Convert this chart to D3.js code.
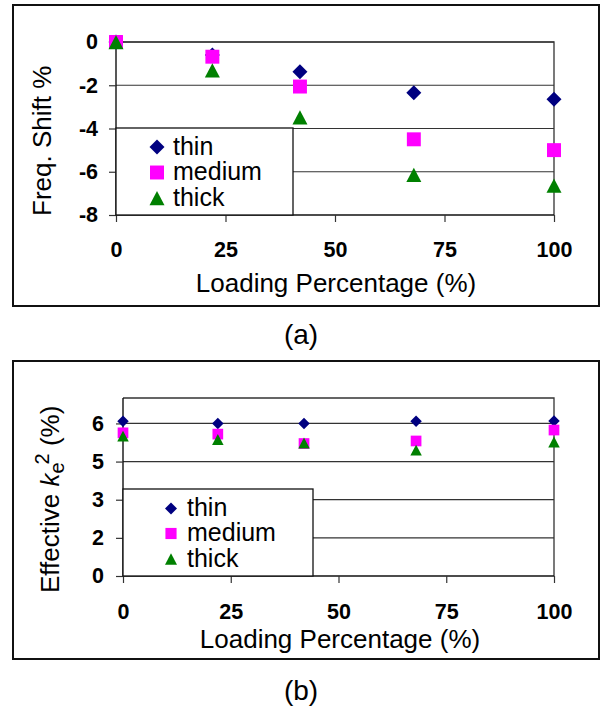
<!DOCTYPE html>
<html>
<head>
<meta charset="utf-8">
<script src="https://cdn.jsdelivr.net/npm/d3@7"></script>
<style>
  body { margin: 0; background: #fff; }
  svg { display: block; font-family: "Liberation Sans", Arial, sans-serif; }
</style>
</head>
<body>
<svg id="chart" width="602" height="715"></svg>
<script>
// loading percentages (x) shared by both panels
const loading = [0, 22, 42, 68, 100];
const seriesNames = ["thin", "medium", "thick"];

// (a) frequency shift %
const shiftThin = [0, -0.6, -1.37, -2.35, -2.65];
const shiftMedium = [0, -0.68, -2.06, -4.5, -5.0];
const shiftThick = [0, -1.31, -3.49, -6.14, -6.64];

// (b) effective k_e^2 %
const keThin = [6.09, 6.0, 6.0, 6.09, 6.1];
const keMedium = [5.63, 5.58, 5.21, 5.31, 5.74];
const keThick = [5.5, 5.37, 5.23, 4.95, 5.27];

const xTicks = [0, 25, 50, 75, 100];
const shiftTicks = [0, -2, -4, -6, -8];
const shiftTickLabels = ["0", "-2", "-4", "-6", "-8"];
const keTicks = [0, 1.5, 3, 4.5, 6];
const keTickLabels = ["0", "2", "3", "5", "6"];

const colors = {thin: "#000080", medium: "#ff00ff", thick: "#008000"};

// marker shapes, centred on their bounding box like Excel markers
const shapeTypes = {
    thin: {draw(ctx, size) { const r = Math.sqrt(size) / 2;
        ctx.moveTo(0, -r); ctx.lineTo(r, 0); ctx.lineTo(0, r); ctx.lineTo(-r, 0); ctx.closePath(); }},
    medium: {draw(ctx, size) { const r = Math.sqrt(size) / 2 * 0.93;
        ctx.rect(-r, -r, 2 * r, 2 * r); }},
    thick: {draw(ctx, size) { const r = Math.sqrt(size) / 2;
        ctx.moveTo(0, -r * 0.95); ctx.lineTo(r, r * 0.95); ctx.lineTo(-r, r * 0.95); ctx.closePath(); }}
};

const svg = d3.select("#chart");

function panel(cfg) {
    const x = d3.scaleLinear().domain([0, 100]).range([cfg.left, cfg.right]);
    const y = d3.scaleLinear().domain(cfg.yDomain).range([cfg.bottom, cfg.top]);
    const g = svg.append("g");

    // outer frame
    g.append("rect")
        .attr("x", cfg.box[0]).attr("y", cfg.box[1])
        .attr("width", cfg.box[2] - cfg.box[0]).attr("height", cfg.box[3] - cfg.box[1])
        .attr("fill", "none").attr("stroke", "#111").attr("stroke-width", 2);

    // gridlines
    g.append("g").selectAll("line")
        .data(cfg.yTicks.filter(d => y(d) < cfg.bottom - 1))
        .join("line")
        .attr("x1", cfg.left).attr("x2", cfg.right)
        .attr("y1", d => y(d)).attr("y2", d => y(d))
        .attr("stroke", "#333").attr("stroke-width", 1.2);
    // plot border top and right
    g.append("path")
        .attr("d", `M${cfg.left},${y(cfg.yDomain[1])}H${cfg.right}V${cfg.bottom}`)
        .attr("fill", "none").attr("stroke", "#333").attr("stroke-width", 1.3);

    const xAxis = g.append("g")
        .attr("transform", `translate(0,${cfg.bottom})`)
        .call(d3.axisBottom(x).tickValues(xTicks).tickSize(7).tickPadding(cfg.xPad));
    const yAxis = g.append("g")
        .attr("transform", `translate(${cfg.left},0)`)
        .call(d3.axisLeft(y).tickValues(cfg.yTicks).tickSize(7).tickPadding(cfg.yPad)
            .tickFormat((d, i) => cfg.yLabels[i]));
    [xAxis, yAxis].forEach(a => {
        a.select(".domain").attr("stroke", "#111").attr("stroke-width", 1.4);
        a.selectAll(".tick line").attr("stroke", "#333").attr("stroke-width", 1.2);
        a.selectAll("text").attr("fill", "#000").attr("font-size", 21.5)
            .attr("font-weight", "bold").attr("font-family", "Liberation Sans, Arial, sans-serif");
    });
    xAxis.select(".domain").attr("d", `M${cfg.left},0H${cfg.right}`);
    yAxis.select(".domain").attr("d", `M0,${cfg.top}V${cfg.bottom}`);

    // legend box (drawn under the markers, over gridlines)
    const lg = cfg.legend;
    g.append("rect")
        .attr("x", cfg.left).attr("y", lg.top)
        .attr("width", lg.right - cfg.left).attr("height", cfg.bottom - lg.top)
        .attr("fill", "#fff").attr("stroke", "#111").attr("stroke-width", 1.3);

    const sym = d3.symbol().size(cfg.markSize * cfg.markSize);
    seriesNames.forEach((name, si) => {
        g.append("g").selectAll("path")
            .data(loading.map((v, i) => ({x: v, y: cfg.values[si][i]})))
            .join("path")
            .attr("transform", d => `translate(${x(d.x)},${y(d.y)})`)
            .attr("d", sym.type(shapeTypes[name])())
            .attr("fill", colors[name]);

        g.append("path")
            .attr("transform", `translate(${lg.markX},${lg.rows[si]})`)
            .attr("d", d3.symbol().size(lg.markSize * lg.markSize).type(shapeTypes[name])())
            .attr("fill", colors[name]);
        g.append("text")
            .attr("x", lg.textX).attr("y", lg.rows[si] + 7.5)
            .attr("font-size", 25)
            .text(name);
    });

    // x axis title
    g.append("text")
        .attr("x", cfg.xTitle[0]).attr("y", cfg.xTitle[1])
        .attr("text-anchor", "middle").attr("font-size", 26)
        .text("Loading Percentage (%)");

    // panel caption
    g.append("text")
        .attr("x", 301).attr("y", cfg.caption[1])
        .attr("text-anchor", "middle").attr("font-size", 28)
        .text(cfg.caption[0]);

    return g;
}

const ga = panel({
    box: [13, 5, 599, 306],
    left: 116, right: 554, top: 42, bottom: 215,
    yDomain: [-8, 0], yTicks: shiftTicks, yLabels: shiftTickLabels,
    xPad: 20, yPad: 11,
    values: [shiftThin, shiftMedium, shiftThick],
    markSize: 15,
    legend: {top: 128, right: 293, markX: 157, rows: [147, 172.5, 198], textX: 173, markSize: 15},
    xTitle: [336, 292],
    caption: ["(a)", 344]
});
ga.append("text")
    .attr("transform", "translate(51,216) rotate(-90)")
    .attr("font-size", 26)
    .text("Freq. Shift %");

const gb = panel({
    box: [13, 361, 599, 659],
    left: 123, right: 554, top: 398, bottom: 576,
    yDomain: [0, 7], yTicks: keTicks, yLabels: keTickLabels,
    xPad: 21, yPad: 12,
    values: [keThin, keMedium, keThick],
    markSize: 11.5,
    legend: {top: 489, right: 313, markX: 171, rows: [508.5, 533.5, 559], textX: 187, markSize: 12},
    xTitle: [340, 648],
    caption: ["(b)", 700]
});
const kt = gb.append("text")
    .attr("transform", "translate(59,593) rotate(-90)")
    .attr("font-size", 26);
kt.append("tspan").text("Effective ");
kt.append("tspan").attr("font-style", "italic").text("k");
kt.append("tspan").attr("font-size", 20).attr("dy", 5).text("e");
kt.append("tspan").attr("font-size", 20).attr("dy", -15).attr("dx", -2).text("2");
kt.append("tspan").attr("dy", 10).text(" (%)");
</script>
</body>
</html>
